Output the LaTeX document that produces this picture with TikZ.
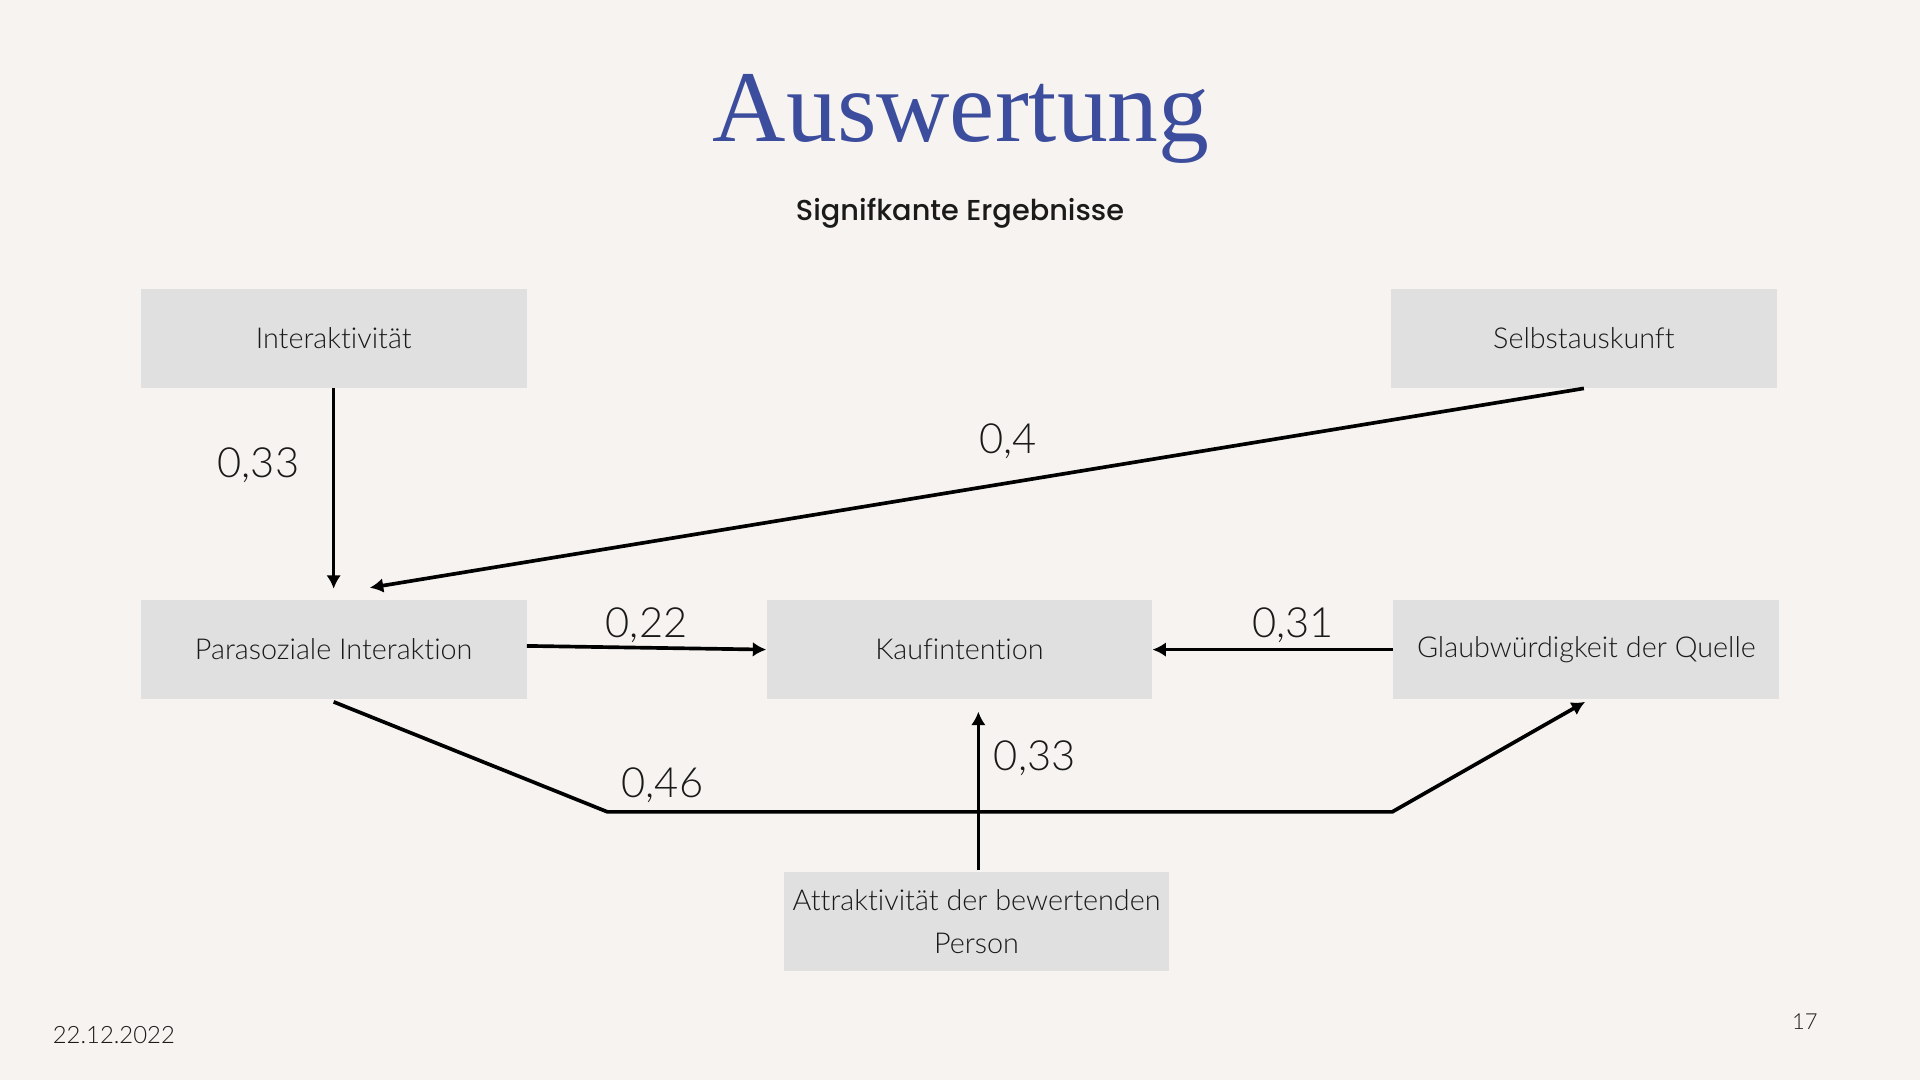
\documentclass[tikz,border=0pt]{standalone}
\usepackage{fontspec}
\setmainfont{Lato}
\newfontfamily\titlefont{Liberation Serif}
\newfontfamily\subfont{Poppins Medium}
\newfontfamily\bodyfont{Lato Light}[Ligatures={NoCommon,NoRequired,NoContextual,NoRare,NoDiscretionary}]
\usetikzlibrary{arrows.meta,calc}
\definecolor{bgc}{HTML}{F6F3F0}
\definecolor{boxc}{HTML}{E0E0E0}
\definecolor{titlec}{HTML}{3D4D9D}
\definecolor{txt}{HTML}{1A1A1A}
\begin{document}
\begin{tikzpicture}[x=1pt,y=-1pt,
  box/.style={fill=boxc, minimum width=315pt, minimum height=81pt, inner sep=0pt,
    text=txt, align=center, font=\bodyfont\fontsize{23.5}{35}\selectfont},
  conn/.style={line width=3pt, draw=black, -{Latex[length=11pt,width=12pt]}},
  lbl/.style={text=txt, inner sep=0pt, font=\bodyfont\fontsize{34}{40}\selectfont}]
\fill[bgc] (0,0) rectangle (1568,882);
\useasboundingbox (0,0) rectangle (1568,882);
% title
\node[text=titlec, font=\titlefont\fontsize{83}{90}\selectfont, inner sep=0pt] (title) at (785,97) {Auswertung};
\node[text=txt, font=\subfont\fontsize{23.5}{26}\selectfont, inner sep=0pt] (sub) at (784,174) {Signifkante Ergebnisse};
% boxes
\node[box] (inter) at (272.5,276.5) {Interaktivität};
\node[box] (selbst) at (1293.5,276.5) {Selbstauskunft};
\node[box] (para) at (272.5,530.5) {Parasoziale Interaktion};
\node[box] (kauf) at (783.5,530.5) {Kaufintention};
\node[box] (glaub) at (1295.5,530.5) {Glaubwürdigkeit der Quelle};
\node[box] (attr) at (797.5,752.5) {Attraktivität der bewertenden\\Person};
% helper coordinates
\coordinate (pin) at (302,480);
\coordinate (b1) at (496,663);
\coordinate (b2) at (1137,663);
% connectors
\draw[conn, line width=2.6pt] (inter.south) -- ($(para.north)+(0,-9)$);
\draw[conn] (selbst.south) -- (pin);
\draw[conn] ($(para.east)+(0,-3)$) -- (kauf.west);
\draw[conn] (glaub.west) -- (kauf.east);
\draw[conn] ($(attr.north)+(1.5,-1)$) -- ($(kauf.south)+(15.5,10)$);
\draw[conn] ($(para.south)+(0,2)$) -- (b1) -- (b2) -- ($(glaub.south)+(-1,2)$);
% labels
\node[lbl] (l1) at (211,380) {0,33};
\node[lbl] (l2) at (823,360) {0,4};
\node[lbl] (l3) at (528,511) {0,22};
\node[lbl] (l4) at (1056,511) {0,31};
\node[lbl] (l5) at (845,619) {0,33};
\node[lbl] (l6) at (541,641) {0,46};
% footer
\node[text=txt, font=\bodyfont\fontsize{19.5}{22}\selectfont, anchor=west, inner sep=0pt] (date) at (43,845) {22.12.2022};
\node[text=txt, font=\bodyfont\fontsize{18}{22}\selectfont, inner sep=0pt] (page) at (1474,834) {17};
\end{tikzpicture}
\end{document}
